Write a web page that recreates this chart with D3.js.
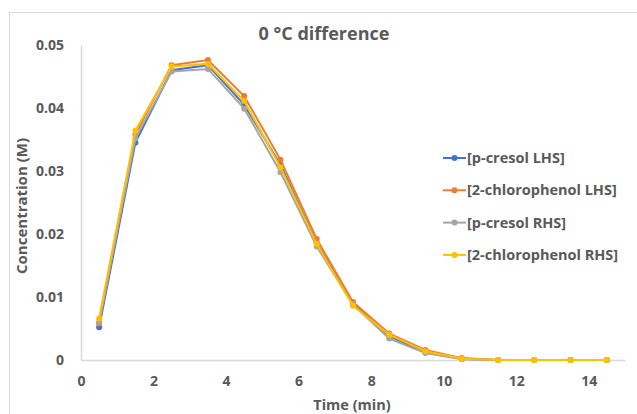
<!DOCTYPE html>
<html>
<head>
<meta charset="utf-8">
<script src="https://cdn.jsdelivr.net/npm/d3@7"></script>
<style>
  body { margin: 0; background: #fff; }
  text { font-family: "Open Sans", sans-serif; font-weight: bold; fill: #595959; }
</style>
</head>
<body>
<svg id="chart" width="637" height="414"></svg>
<script>
const times = [0.5, 1.5, 2.5, 3.5, 4.5, 5.5, 6.5, 7.5, 8.5, 9.5, 10.5, 11.5, 12.5, 13.5, 14.5];
const pCresolLHS = [0.0052, 0.0345, 0.0460, 0.0468, 0.0405, 0.0310, 0.0185, 0.0090, 0.0038, 0.0012, 0.0002, 0, 0, 0, 0];
const chloroLHS = [0.0058, 0.0358, 0.0468, 0.0476, 0.0419, 0.0318, 0.0192, 0.0092, 0.0042, 0.0016, 0.0003, 0, 0, 0, 0];
const pCresolRHS = [0.0060, 0.0352, 0.0458, 0.0462, 0.0399, 0.0298, 0.0180, 0.0088, 0.0034, 0.0011, 0.0001, 0, 0, 0, 0];
const chloroRHS = [0.0066, 0.0364, 0.0466, 0.0470, 0.0411, 0.0306, 0.0184, 0.0086, 0.0040, 0.0014, 0.0002, 0, 0, 0, 0];
const seriesNames = ["[p-cresol LHS]", "[2-chlorophenol LHS]", "[p-cresol RHS]", "[2-chlorophenol RHS]"];
const seriesColours = ["#4472C4", "#ED7D31", "#A5A5A5", "#FFC000"];
const xTicks = [0, 2, 4, 6, 8, 10, 12, 14];
const yTicks = [0, 0.01, 0.02, 0.03, 0.04, 0.05];

const series = [pCresolLHS, chloroLHS, pCresolRHS, chloroRHS].map((vals, i) => ({
    name: seriesNames[i],
    colour: seriesColours[i],
    points: vals.map((v, j) => ({ t: times[j], c: v }))
}));

const svg = d3.select("#chart");
const margin = { top: 45, right: 12, bottom: 54, left: 81 };
const width = 637 - margin.left - margin.right;
const height = 414 - margin.top - margin.bottom;

// outer chart border
svg.append("rect")
    .attr("x", 9.5).attr("y", 12.5)
    .attr("width", 640).attr("height", 410)
    .attr("fill", "none").attr("stroke", "#d9d9d9");

const chartArea = svg.append("g")
    .attr("transform", `translate(${margin.left},${margin.top})`);

const xScale = d3.scaleLinear().domain([0, 15]).range([0, width]);
const yScale = d3.scaleLinear().domain([0, 0.05]).range([height, 0]);

const xAxis = chartArea.append("g")
    .attr("transform", `translate(0,${height})`)
    .call(d3.axisBottom(xScale).tickValues(xTicks).tickSize(0).tickPadding(16).tickFormat(d3.format("d")));
const yAxis = chartArea.append("g")
    .call(d3.axisLeft(yScale).tickValues(yTicks).tickSize(0).tickPadding(17).tickFormat(d => d === 0 ? "0" : d3.format(".2f")(d)));

[xAxis, yAxis].forEach(a => {
    a.select(".domain").attr("stroke", "#d9d9d9").attr("stroke-width", 1.5);
    a.selectAll("text").attr("font-size", 14).attr("fill", "#595959");
});

const line = d3.line()
    .x(d => xScale(d.t))
    .y(d => yScale(d.c));

const groups = chartArea.selectAll(".series")
    .data(series)
    .join("g")
    .attr("class", "series");

groups.append("path")
    .attr("fill", "none")
    .attr("stroke", d => d.colour)
    .attr("stroke-width", 2)
    .attr("d", d => line(d.points));

groups.selectAll("circle")
    .data(d => d.points.map(p => ({ ...p, colour: d.colour })))
    .join("circle")
    .attr("cx", d => xScale(d.t))
    .attr("cy", d => yScale(d.c))
    .attr("r", 3)
    .attr("fill", d => d.colour);

// title and axis labels
svg.append("text")
    .attr("x", 324).attr("y", 40)
    .attr("text-anchor", "middle")
    .attr("font-size", 18)
    .text("0 °C difference");

svg.append("text")
    .attr("x", 352).attr("y", 410)
    .attr("text-anchor", "middle")
    .attr("font-size", 14.5)
    .text("Time (min)");

svg.append("text")
    .attr("transform", `translate(27,206) rotate(-90)`)
    .attr("text-anchor", "middle")
    .attr("font-size", 15)
    .text("Concentration (M)");

// legend
const legend = svg.append("g").attr("transform", "translate(443,158)");
const items = legend.selectAll(".legend-item")
    .data(series)
    .join("g")
    .attr("class", "legend-item")
    .attr("transform", (d, i) => `translate(0,${i * 32.3})`);
items.append("line")
    .attr("x1", 0).attr("x2", 23)
    .attr("stroke", d => d.colour).attr("stroke-width", 2);
items.append("circle")
    .attr("cx", 11.5).attr("r", 3).attr("fill", d => d.colour);
items.append("text")
    .attr("x", 24).attr("dy", "0.35em")
    .attr("font-size", 14.5)
    .text(d => d.name);
</script>
</body>
</html>
